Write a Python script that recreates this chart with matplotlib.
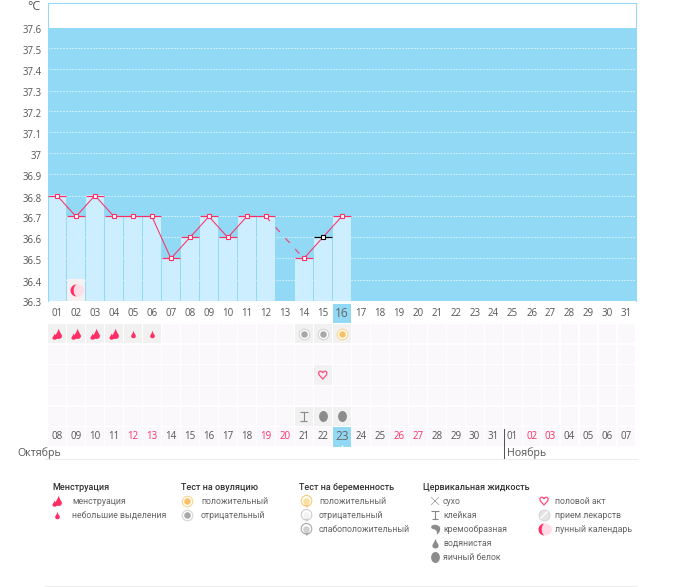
import numpy as np
import matplotlib
matplotlib.use("Agg")
import matplotlib.pyplot as plt
from matplotlib.path import Path
from matplotlib.patches import Rectangle
from matplotlib.transforms import Affine2D, ScaledTranslation

plt.rcParams['font.family'] = ['Open Sans', 'DejaVu Sans']
LEGEND_FONT = ['Roboto', 'DejaVu Sans']

# ---- data ----
temp_days = [1, 2, 3, 4, 5, 6, 7, 8, 9, 10, 11, 12, 14, 15, 16]
temps = [36.8, 36.7, 36.8, 36.7, 36.7, 36.7, 36.5, 36.6, 36.7, 36.6, 36.7, 36.7, 36.5, 36.6, 36.7]
y_ticks = [36.3, 36.4, 36.5, 36.6, 36.7, 36.8, 36.9, 37.0, 37.1, 37.2, 37.3, 37.4, 37.5, 37.6]
y_labels = ['36.3', '36.4', '36.5', '36.6', '36.7', '36.8', '36.9', '37', '37.1', '37.2', '37.3', '37.4', '37.5', '37.6']
cycle_days = ['%02d' % d for d in range(1, 32)]
calendar_days = ['08', '09', '10', '11', '12', '13', '14', '15', '16', '17', '18', '19', '20', '21', '22', '23',
                 '24', '25', '26', '27', '28', '29', '30', '31', '01', '02', '03', '04', '05', '06', '07']
weekend_days = [5, 6, 12, 13, 19, 20, 26, 27]
today = 16
black_marker_day = 15
moon_days = [2]
men_heavy = [1, 2, 3, 4]
men_light = [5, 6]
ovu_negative = [14, 15]
ovu_positive = [16]
intercourse = [15]
sticky = [14]
eggwhite = [15, 16]

BG = '#92D9F5'
BAR = '#CCEEFE'
RED = '#FF2F66'
TXT = '#555555'
CELL = '#FAF8FA'
CELL_ON = '#F2F1F2'

W, H = 675, 587
fig = plt.figure(figsize=(W / 100, H / 100), dpi=100)


def px_axes(l, t, r, b, **kw):
    return fig.add_axes([l / W, 1 - b / H, (r - l) / W, (b - t) / H], **kw)


# ---- icon shapes ----
def drop(cx=0, cy=0, w=1, h=1.6):
    v = [(cx, cy + h / 2), (cx + w * .15, cy + h * .1), (cx + w / 2, cy - h * .05), (cx + w / 2, cy - h * .22),
         (cx + w / 2, cy - h * .42), (cx + w * .25, cy - h / 2), (cx, cy - h / 2),
         (cx - w * .25, cy - h / 2), (cx - w / 2, cy - h * .42), (cx - w / 2, cy - h * .22),
         (cx - w / 2, cy - h * .05), (cx - w * .15, cy + h * .1), (cx, cy + h / 2), (cx, cy + h / 2)]
    return Path(v, [Path.MOVETO] + [Path.CURVE4] * 12 + [Path.CLOSEPOLY])


FLAME = Path.make_compound_path(drop(.22, .15, 1.25, 2.0), drop(-.55, -.4, .85, 1.2))
DROP = drop()
EGG = Path.unit_circle().transformed(Affine2D().scale(.8, 1))
HEART = Path([(0, -1), (-.4, -.45), (-1, -.1), (-1, .45), (-1, 1.05), (-.25, 1.1), (0, .55),
              (.25, 1.1), (1, 1.05), (1, .45), (1, -.1), (.4, -.45), (0, -1), (0, -1)],
             [Path.MOVETO] + [Path.CURVE4] * 12 + [Path.CLOSEPOLY])
STICKY = Path([(-1, 1), (1, 1), (0, 1), (0, -1), (-.8, -1), (.8, -1)],
              [Path.MOVETO, Path.LINETO, Path.MOVETO, Path.LINETO, Path.MOVETO, Path.LINETO])
CROSS = Path([(-1, 1), (1, -1), (-1, -1), (1, 1)], [Path.MOVETO, Path.LINETO, Path.MOVETO, Path.LINETO])
CREAM = Path([(-.8, .6), (-.6, 1), (.4, 1.05), (.8, .5), (1.05, .0), (.8, -.7), (.2, -1),
              (.4, -.5), (.2, -.1), (-.3, .05), (-.7, .1), (-.9, .3), (-.8, .6), (-.8, .6)],
             [Path.MOVETO] + [Path.CURVE4] * 12 + [Path.CLOSEPOLY])
_t = np.radians(np.linspace(70, 290, 30))
_u = _t[::-1]
MOON = Path(np.r_[np.c_[np.cos(_t), np.sin(_t)],
                  np.c_[.34 + .6 * (np.cos(_u) - .34), np.sin(_u)]], closed=False)
PREG = Path.make_compound_path(Path.circle((0, .12), .88),
                               Path([(-.35, -.6), (.35, -.6), (0, -1)], [Path.MOVETO, Path.LINETO, Path.LINETO]))


def icon(ax, x, y, kind, z=6):
    def s(path, px, xx=None, **kw):
        kw.setdefault('linewidths', 0)
        ax.scatter(x if xx is None else xx, y, marker=path, s=(px * .72) ** 2, zorder=kw.pop('zorder', z), clip_on=False, **kw)

    if kind == 'heavy':
        s(FLAME, 12, c=RED)
    elif kind == 'light':
        s(DROP, 7.5, c=RED)
    elif kind in ('ovu_pos', 'ovu_neg'):
        ring, mid = ('#FBD68C', '#F9C063') if kind == 'ovu_pos' else ('#D4D4D4', '#A8A8A8')
        s('o', 10.5, facecolor='#FFFFFF', edgecolor=ring, linewidths=.8)
        s('o', 6.5, c=mid, zorder=z + 1)
    elif kind == 'heart':
        s(HEART, 9, facecolor='none', edgecolor='#FF4C80', linewidths=.9)
    elif kind == 'sticky':
        s(STICKY, 8.5, facecolor='none', edgecolor='#888888', linewidths=.8)
    elif kind == 'egg':
        s(EGG, 11, c='#8C8C8C')
    elif kind == 'water':
        s(DROP, 10, c='#8C8C8C')
    elif kind == 'cream':
        s(CREAM, 11, c='#8C8C8C')
    elif kind == 'dry':
        s(CROSS, 8, facecolor='none', edgecolor='#999999', linewidths=.5)
    elif kind == 'moon':
        s('o', 11, xx=x + ax._icon_dx * 1.5, c='#FFDCE6')
        s(MOON, 12, c=RED, zorder=z + 1)
    elif kind == 'pill':
        s('o', 11, facecolor='#E4E4E4', edgecolor='#CCCCCC', linewidths=.5)
        s(Path([(-1, -1), (1, 1)]), 7, facecolor='none', edgecolor='#FFFFFF', linewidths=1, zorder=z + 1)
    elif kind in ('preg_pos', 'preg_neg', 'preg_weak'):
        ring, mid = {'preg_pos': ('#F9CB75', '#FBDDA0'), 'preg_neg': ('#CCCCCC', '#F2F2F2'), 'preg_weak': ('#A8A8A8', '#D0D0D0')}[kind]
        s(PREG, 12, facecolor='#FFFFFF', edgecolor=ring, linewidths=.8)
        s('o', 6.5, c=mid, zorder=z + 1)


# ---- temperature chart ----
ax = px_axes(47.5, 3, 636, 300.5)
ax._icon_dx = .055
y_top = 36.3 + (300.5 - 3) / 21.0 * .1
ax.set_xlim(.5, 31.5)
ax.set_ylim(36.3, y_top)
ax.add_patch(Rectangle((.5, 36.3), 31, 1.3, facecolor=BG, edgecolor='none', zorder=0))
ax.hlines(y_ticks[1:-1], .5, 31.5, colors='white', linewidth=.72, linestyles=(0, (1, 2)), zorder=1)
ax.bar(temp_days, np.array(temps) - 36.3, bottom=36.3, width=.95, color=BAR, linewidth=0, zorder=2)

for d in moon_days:
    ax.add_patch(Rectangle((d - .47, 36.3), .94, .1, facecolor='#F5F1F3', edgecolor='none', zorder=3))
    icon(ax, d, 36.35, 'moon')

for d, t in zip(temp_days, temps):
    c = 'black' if d == black_marker_day else RED
    ax.plot([d - .47, d + .47], [t, t], color=c, lw=.85, solid_capstyle='butt', zorder=4)

for i in range(len(temp_days) - 1):
    x0, x1 = temp_days[i], temp_days[i + 1]
    ls = '-' if x1 - x0 == 1 else (0, (6, 8))
    ax.plot([x0, x1], [temps[i], temps[i + 1]], color=RED, lw=.75, ls=ls, zorder=5)

for d, t in zip(temp_days, temps):
    c = 'black' if d == black_marker_day else RED
    ax.plot([d], [t], marker='s', ms=3.4, mfc='white', mec=c, mew=.8, zorder=6)

ax.set_xticks([])
ax.set_yticks(y_ticks)
ax.set_yticklabels(y_labels, fontsize=6.9, color=TXT)
ax.tick_params(axis='y', length=0, pad=4)
_off = ScaledTranslation(0, -2 / 100, fig.dpi_scale_trans)
for lab in ax.get_yticklabels():
    lab.set_transform(lab.get_transform() + _off)
for k, sp in ax.spines.items():
    sp.set_color(BG)
    sp.set_linewidth(.75)
ax.spines['bottom'].set_visible(False)

# ---- day grid ----
g = px_axes(47.5, 302.7, 636, 447.3)
g._icon_dx = .055
g.set_xlim(.5, 31.5)
g.set_ylim(6.5, -.5)
g.axis('off')
day_x = np.arange(1, 32)
active = {1: men_heavy + men_light + ovu_negative + ovu_positive, 3: intercourse, 5: sticky + eggwhite}
for row in range(1, 7):
    for d in day_x:
        col = CELL_ON if d in active.get(row, []) else CELL
        g.add_patch(Rectangle((d - .47, row - .46), .94, .92, facecolor=col, edgecolor='none', zorder=1))
g.add_patch(Rectangle((today - .47, -.46), .94, .96, facecolor=BG, edgecolor='none', zorder=2))
g.add_patch(Rectangle((today - .47, 5.5), .94, .98, facecolor=BG, edgecolor='none', zorder=2))
g.scatter([today], [6.45], marker='^', s=5, c='white', linewidths=0, zorder=3, clip_on=False)

for i, lab in enumerate(cycle_days):
    big = i + 1 == today
    g.text(i + 1, 0, lab, ha='center', va='center', fontsize=8.6 if big else 7, color='#666666' if big else TXT, zorder=5)
for i, lab in enumerate(calendar_days):
    big = i + 1 == today
    g.text(i + 1, 6, lab, ha='center', va='center', fontsize=8.6 if big else 7,
           color=RED if i + 1 in weekend_days else ('#666666' if big else TXT), zorder=5)

for d in men_heavy:
    icon(g, d, 1, 'heavy')
for d in men_light:
    icon(g, d, 1, 'light')
for d in ovu_negative:
    icon(g, d, 1, 'ovu_neg')
for d in ovu_positive:
    icon(g, d, 1, 'ovu_pos')
for d in intercourse:
    icon(g, d, 3, 'heart')
for d in sticky:
    icon(g, d, 5, 'sticky')
for d in eggwhite:
    icon(g, d, 5, 'egg')

# ---- overlay ----
o = px_axes(0, 0, W, H, facecolor='none')
o._icon_dx = 1
o.set_xlim(0, W)
o.set_ylim(H, 0)
o.axis('off')
o.text(34, 6, '°C', ha='center', va='center', fontsize=9, color=TXT)
o.text(17, 453, 'Октябрь', ha='left', va='center', fontsize=7.7, color=TXT)
o.text(507, 453, 'Ноябрь', ha='left', va='center', fontsize=7.7, color=TXT)
o.plot([503.5, 503.5], [429, 458], color='#555555', lw=.75)
o.plot([45, 637], [458.5, 458.5], color='#ECECEC', lw=.75)
o.plot([45, 637], [586, 586], color='#ECECEC', lw=.75)

HDR = 6.5
LBL = 6.3
legend_heads = [(52, 'Менструация'), (181, 'Тест на овуляцию'), (299, 'Тест на беременность'), (423, 'Цервикальная жидкость')]
for x, t in legend_heads:
    o.text(x, 487, t, ha='left', va='center', fontsize=HDR, color='#333333', family=LEGEND_FONT, weight=500)

legend_items = [
    (57, 501, 72, 'heavy', 'менструация'),
    (57, 515, 72, 'light', 'небольшие выделения'),
    (187, 501, 201, 'ovu_pos', 'положительный'),
    (187, 515, 201, 'ovu_neg', 'отрицательный'),
    (306, 501, 319, 'preg_pos', 'положительный'),
    (306, 515, 319, 'preg_neg', 'отрицательный'),
    (306, 529, 319, 'preg_weak', 'слабоположительный'),
    (435, 501, 443, 'dry', 'сухо'),
    (435, 515, 443, 'sticky', 'клейкая'),
    (435, 529, 443, 'cream', 'кремообразная'),
    (435, 543, 443, 'water', 'водянистая'),
    (435, 557, 443, 'egg', 'яичный белок'),
    (544, 501, 555, 'heart', 'половой акт'),
    (544, 515, 555, 'pill', 'прием лекарств'),
    (544, 529, 555, 'moon', 'лунный календарь'),
]
for ix, iy, tx, kind, lab in legend_items:
    icon(o, ix, iy, kind)
    o.text(tx, iy, lab, ha='left', va='center', fontsize=LBL, color='#666666', family=LEGEND_FONT)

fig.savefig('out.png', dpi=100, facecolor='white')
